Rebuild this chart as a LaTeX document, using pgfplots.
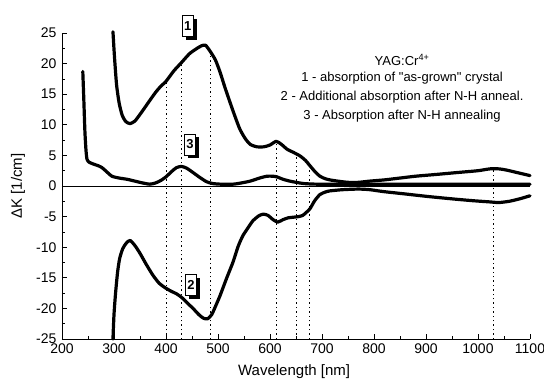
\documentclass[border=0pt]{standalone}
\usepackage{pgfplots}
\pgfplotsset{compat=1.18}
\usepackage{fontspec}
\setmainfont{Liberation Sans}
\usetikzlibrary{shadows}

% absorption of the as-grown crystal
\pgfplotstableread{
x y
298 25.2
301 21.0
305 16.5
310 13.5
316 11.5
323 10.5
331 10.2
340 10.6
350 11.7
360 12.9
369 14.0
380 15.3
390 16.3
400 17.1
415 18.8
429 20.1
445 21.6
458 22.4
468 22.9
476 23.0
485 22.0
495 20.6
504 18.6
513 16.2
523 13.7
533 11.3
542 9.3
552 7.8
562 6.8
575 6.4
588 6.4
600 6.7
612 7.3
622 6.8
633 6.0
645 5.5
658 4.9
668 4.2
677 3.3
686 2.4
696 1.6
706 1.2
715 1.0
730 0.8
750 0.6
770 0.6
792 0.8
820 1.0
850 1.3
880 1.6
921 1.9
960 2.2
1000 2.5
1023 2.8
1040 2.8
1055 2.6
1075 2.2
1100 1.7
}\asgrown

% additional absorption after N-H anneal
\pgfplotstableread{
x y
298 -25.0
300 -21.0
303 -17.5
307 -14.0
311 -11.8
317 -10.2
324 -9.3
331 -8.9
340 -9.7
350 -11.0
362 -12.8
375 -14.6
387 -15.9
398 -16.6
410 -17.2
420 -17.6
430 -18.2
442 -19.2
452 -20.0
463 -21.0
472 -21.6
480 -21.7
488 -21.0
496 -19.5
504 -17.9
516 -15.2
529 -12.4
539 -9.8
548 -8.1
558 -6.8
567 -5.7
578 -4.9
587 -4.6
596 -4.8
606 -5.5
615 -5.9
625 -5.5
635 -5.2
645 -5.1
655 -5.0
663 -4.8
670 -4.3
677 -3.7
686 -2.4
696 -1.4
706 -1.0
715 -0.8
740 -0.6
770 -0.5
792 -0.6
817 -0.9
860 -1.3
902 -1.7
950 -2.1
990 -2.4
1023 -2.6
1040 -2.7
1060 -2.5
1080 -2.1
1100 -1.6
}\additional

% absorption after N-H annealing
\pgfplotstableread{
x y
240 18.7
242 14.0
244 9.0
246 6.0
248 4.4
252 3.9
260 3.6
270 3.3
277 3.0
285 2.4
296 1.6
310 1.3
325 1.1
340 0.8
355 0.5
369 0.3
380 0.5
390 0.9
400 1.5
410 2.3
420 3.0
430 3.2
440 2.9
452 2.2
465 1.4
478 0.7
490 0.4
505 0.3
529 0.3
545 0.5
562 0.8
580 1.3
594 1.6
605 1.6
613 1.5
625 1.1
638 0.8
650 0.6
665 0.4
690 0.3
750 0.3
850 0.3
950 0.3
1030 0.3
1100 0.3
}\annealed

\begin{document}
\begin{tikzpicture}
\path[use as bounding box] (-62pt,-45pt) rectangle (482pt,339pt);
\begin{axis}[
  at={(0,0)}, anchor=south west,
  scale only axis, width=468pt, height=306pt,
  xmin=200, xmax=1100, ymin=-25, ymax=25,
  axis lines=left, axis line style={-, line width=0.9pt},
  xtick={200,300,...,1100}, ytick={-25,-20,...,25},
  minor x tick num=1, minor y tick num=1,
  tick align=inside, major tick length=5pt, minor tick length=3pt,
  tick style={black, line width=0.8pt},
  /pgf/number format/assume math mode=true,
  /pgf/number format/1000 sep={},
  ticklabel style={font=\fontsize{14}{16}\selectfont},
  yticklabel style={xshift=-2pt},
  xticklabel style={yshift=-1pt},
  xlabel={Wavelength [nm]},
  ylabel={ΔK [1/cm]},
  label style={font=\fontsize{15}{17}\selectfont},
  xlabel style={at={(axis description cs:0.496,-0.108)}, anchor=center},
  ylabel style={at={(axis description cs:-0.094,0.5)}, anchor=center, rotate=0},
  clip=false,
]
% zero line
\addplot[black, line width=1pt] coordinates {(200,0) (1100,0)};
% marker lines at the band positions
\addplot[black, line width=0.8pt, dash pattern=on 1.4pt off 3pt] coordinates {(400,-25) (400,17.1)};
\addplot[black, line width=0.8pt, dash pattern=on 1.4pt off 3pt] coordinates {(430,-25) (430,20.2)};
\addplot[black, line width=0.8pt, dash pattern=on 1.4pt off 3pt] coordinates {(485,-25) (485,22.0)};
\addplot[black, line width=0.8pt, dash pattern=on 1.4pt off 3pt] coordinates {(613,-25) (613,7.3)};
\addplot[black, line width=0.8pt, dash pattern=on 1.4pt off 3pt] coordinates {(650,-25) (650,5.3)};
\addplot[black, line width=0.8pt, dash pattern=on 1.4pt off 3pt] coordinates {(675,-25) (675,3.5)};
\addplot[black, line width=0.8pt, dash pattern=on 1.4pt off 3pt] coordinates {(1030,-25) (1030,2.8)};
% spectra
\addplot[black, line width=3.2pt, line cap=round, line join=round, smooth, tension=0.4] table {\asgrown};
\addplot[black, line width=3.2pt, line cap=round, line join=round, smooth, tension=0.4] table {\additional};
\addplot[black, line width=3.2pt, line cap=round, line join=round, smooth, tension=0.4] table {\annealed};
% curve labels
\tikzset{curvelabel/.style={draw, line width=0.5pt, fill=white, inner sep=1pt,
  minimum width=11pt, minimum height=21pt, font=\bfseries\fontsize{13}{15}\selectfont,
  drop shadow={shadow xshift=3.5pt, shadow yshift=-3.5pt, fill=black, opacity=1}}}
\node[curvelabel] at (axis cs:442,26.2) {1};
\node[curvelabel] at (axis cs:446,6.8) {3};
\node[curvelabel] at (axis cs:448,-16.1) {2};
% legend text
\node[font=\fontsize{13}{15}\selectfont] at (axis cs:854,20.6) {YAG:Cr\textsuperscript{4+}};
\node[font=\fontsize{13}{15}\selectfont] at (axis cs:854,17.6) {1 - absorption of \textquotedbl as-grown\textquotedbl\ crystal};
\node[font=\fontsize{13}{15}\selectfont] at (axis cs:854,14.5) {2 - Additional absorption after N-H anneal.};
\node[font=\fontsize{13}{15}\selectfont] at (axis cs:854,11.4) {3 - Absorption after N-H annealing};
\end{axis}
\end{tikzpicture}
\end{document}
